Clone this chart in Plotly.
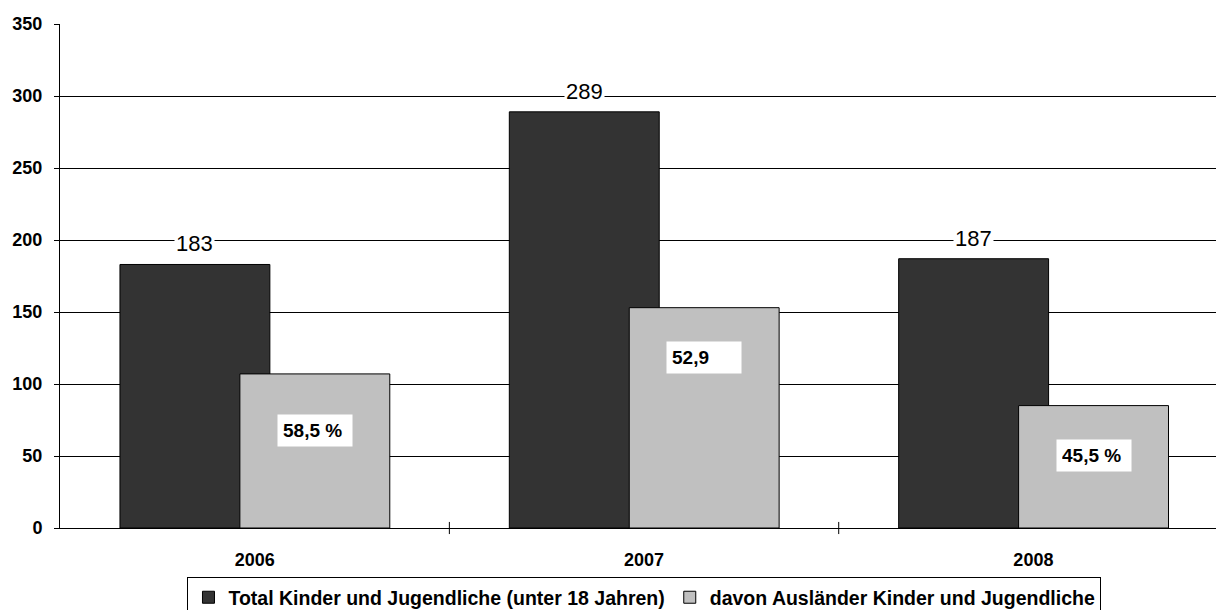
import plotly.graph_objects as go

years = ['2006', '2007', '2008']
total = [183, 289, 187]
auslaender = [107, 153, 85]
anteil_labels = ['58,5 %', '52,9', '45,5 %']

font = 'Liberation Sans, Arial, sans-serif'
x = list(range(len(years)))
w = 0.385
off_dark = -0.346
off_light = -0.038

fig = go.Figure()
fig.add_trace(go.Bar(
    x=x, y=total, name='Total Kinder und Jugendliche (unter 18 Jahren)',
    width=w, offset=off_dark,
    marker=dict(color='#333333', line=dict(color='black', width=1)),
))
fig.add_trace(go.Bar(
    x=x, y=auslaender, name='davon Ausländer Kinder und Jugendliche',
    width=w, offset=off_light,
    marker=dict(color='#c0c0c0', line=dict(color='black', width=1)),
))

# value labels above dark bars
for i, v in enumerate(total):
    fig.add_annotation(
        x=i + off_dark + w / 2, y=v, text=str(v), showarrow=False,
        yanchor='bottom', yshift=6, bgcolor='white', borderpad=1,
        font=dict(family=font, size=22, color='black'),
    )

# percentage labels inside light bars
shifts = [-57, -50, -50]
for i, v in enumerate(auslaender):
    fig.add_annotation(
        x=i + off_light + w / 2, y=v, text='<b>' + anteil_labels[i] + '</b>',
        showarrow=False, yanchor='middle', yshift=shifts[i],
        bgcolor='white', width=64, align='left', borderpad=5,
        font=dict(family=font, size=19, color='black'),
    )

fig.update_layout(
    width=1216, height=610,
    barmode='overlay',
    plot_bgcolor='white', paper_bgcolor='white',
    margin=dict(l=60, r=0, t=24, b=82, autoexpand=False),
    font=dict(family=font, color='black'),
    showlegend=True,
    legend=dict(
        orientation='h', xref='container', x=0.53, xanchor='center',
        yref='container', y=0.054, yanchor='top',
        bordercolor='black', borderwidth=1, bgcolor='white',
        font=dict(family=font, size=19.5, color='black', weight='bold'),
        itemwidth=30, tracegroupgap=0,
    ),
    xaxis=dict(
        range=[-0.5, 2.469], tickvals=[0, 1, 2], ticktext=years,
        showline=True, linecolor='black', linewidth=1,
        showgrid=False, zeroline=False,
        tickfont=dict(family=font, size=18, weight='bold'),
        ticks='', ticklabelstandoff=15,
    ),
    yaxis=dict(
        range=[0, 350], dtick=50,
        showline=True, linecolor='black', linewidth=1,
        showgrid=True, gridcolor='black', gridwidth=1,
        zeroline=False,
        ticks='outside', ticklen=5, tickcolor='black',
        tickfont=dict(family=font, size=18, weight='bold'),
        ticklabelstandoff=8,
    ),
)

# category boundary tick marks crossing the x axis
for b in [0.5, 1.5]:
    fig.add_shape(type='line', xref='x', yref='paper', x0=b, x1=b, y0=-0.012, y1=0.012,
                  line=dict(color='black', width=1))

# drop the default 8px page margin so the figure fills the window
fig.write_html('out.html', config={'displayModeBar': False},
               post_script="document.body.style.margin='0';")
